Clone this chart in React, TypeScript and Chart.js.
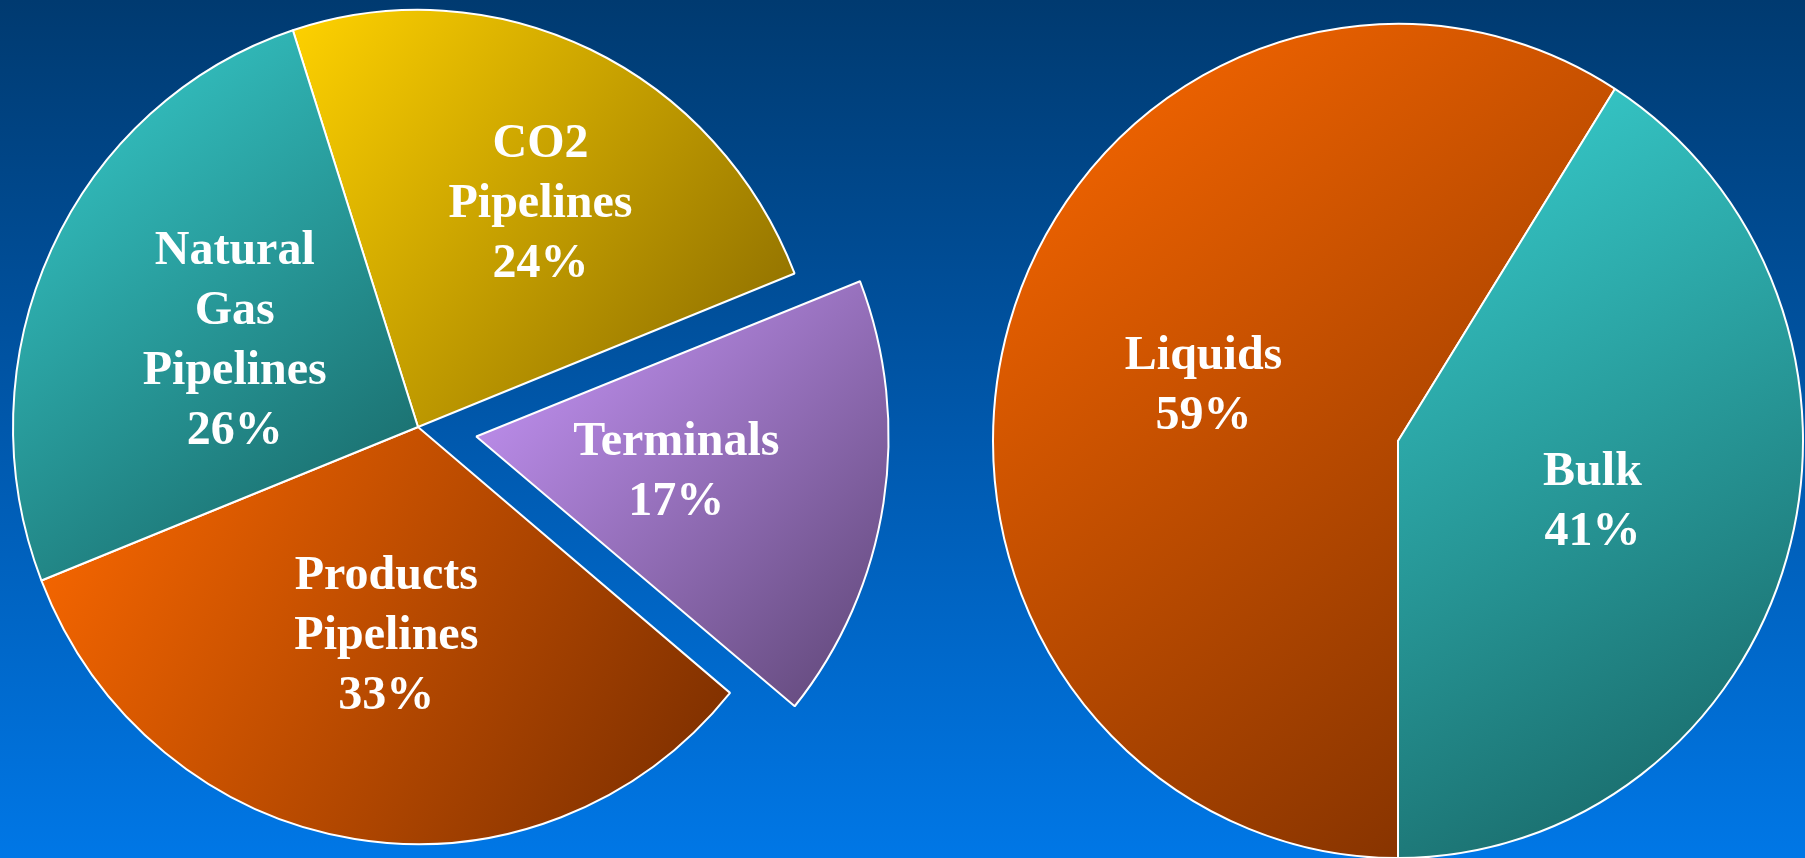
import React, { useEffect, useRef } from "react";
import { Chart, registerables } from "chart.js";

Chart.register(...registerables);

// ---------- data ----------
const leftCategories = ["CO2 Pipelines", "Terminals", "Products Pipelines", "Natural Gas Pipelines"];
const leftLabelLines = [["CO2", "Pipelines"], ["Terminals"], ["Products", "Pipelines"], ["Natural", "Gas", "Pipelines"]];
const leftValues = [24, 17, 33, 26];

const rightCategories = ["Liquids", "Bulk"];
const rightLabelLines = [["Liquids"], ["Bulk"]];
const rightValues = [59, 41];

// ---------- styling ----------
const leftLight = ["#FFD200", "#CC99FF", "#FF6A00", "#38CFCF"];
const leftDark = ["#846600", "#5E4676", "#762C00", "#166060"];
const leftOffsets = [0, 236, 0, 0];
const leftLabelRadius = [0.62, 0.5, 0.5, 0.5];
const leftLabelTurn = [4, 0, 0, 0];

const rightLight = ["#FF6A00", "#38CFCF"];
const rightDark = ["#762C00", "#166060"];
const rightOffsets = [0, 0];
const rightLabelRadius = [0.5, 0.5];
const rightLabelTurn = [0, 0];

const RADIUS = 405;
const Y_STRETCH = 1.03;
const LINE_HEIGHT = 60;
const FONT = 'bold 48px "Liberation Serif", "Times New Roman", serif';

type PieCfg = {
  categories: string[];
  lines: string[][];
  values: number[];
  light: string[];
  dark: string[];
  offsets: number[];
  labelRadius: number[];
  labelTurn: number[];
  rotation: number;
  padding: { left: number; right: number; top: number; bottom: number };
};

function sliceAngles(values: number[], rotationDeg: number) {
  const total = values.reduce((a, b) => a + b, 0);
  let a = (rotationDeg * Math.PI) / 180 - Math.PI / 2;
  return values.map((v) => {
    const s = a;
    a += (v / total) * 2 * Math.PI;
    return [s, a];
  });
}

function centerOf(chart: any) {
  const area = chart.chartArea;
  return { cx: (area.left + area.right) / 2, cy: (area.top + area.bottom) / 2 };
}

function makeGradient(c: any, cfg: PieCfg) {
  const chart = c.chart;
  const i = c.dataIndex;
  if (!chart.chartArea || i === undefined) return cfg.light[i || 0];
  const { cx, cy } = centerOf(chart);
  const [s, e] = sliceAngles(cfg.values, cfg.rotation)[i];
  const xs = [cx];
  const ys = [cy];
  const push = (a: number) => {
    xs.push(cx + RADIUS * Math.cos(a));
    ys.push(cy + RADIUS * Math.sin(a));
  };
  push(s);
  push(e);
  for (let k = Math.ceil(s / (Math.PI / 2)); (k * Math.PI) / 2 < e; k++) push((k * Math.PI) / 2);
  const g = chart.ctx.createLinearGradient(Math.min(...xs), Math.min(...ys), Math.max(...xs), Math.max(...ys));
  g.addColorStop(0, cfg.light[i]);
  g.addColorStop(1, cfg.dark[i]);
  return g;
}

function buildChart(canvas: HTMLCanvasElement, cfg: PieCfg) {
  const stretchPlugin = {
    id: "stretch",
    beforeDatasetsDraw(chart: any) {
      const { cx, cy } = centerOf(chart);
      const ctx = chart.ctx;
      ctx.save();
      ctx.translate(cx, cy);
      ctx.scale(1, Y_STRETCH);
      ctx.translate(-cx, -cy);
    },
    afterDatasetsDraw(chart: any) {
      chart.ctx.restore();
    },
  };
  const labelPlugin = {
    id: "sliceLabels",
    afterDraw(chart: any) {
      const { cx, cy } = centerOf(chart);
      const ctx = chart.ctx;
      const angles = sliceAngles(cfg.values, cfg.rotation);
      ctx.save();
      ctx.font = FONT;
      ctx.fillStyle = "#ffffff";
      ctx.textAlign = "center";
      ctx.textBaseline = "alphabetic";
      cfg.values.forEach((v, i) => {
        const [s, e] = angles[i];
        const mid = (s + e) / 2;
        const off = cfg.offsets[i] / 4;
        const th = mid + (cfg.labelTurn[i] * Math.PI) / 180;
        const d = cfg.labelRadius[i] * RADIUS;
        const x = cx + Math.cos(mid) * off + d * Math.cos(th);
        const y = cy + Y_STRETCH * (Math.sin(mid) * off + d * Math.sin(th));
        const lines = [...cfg.lines[i], `${v}%`];
        const n = lines.length;
        lines.forEach((t, j) => {
          const ly = y + (j - (n - 1) / 2) * LINE_HEIGHT + 16;
          ctx.fillText(t, x, ly);
        });
      });
      ctx.restore();
    },
  };
  return new Chart(canvas, {
    type: "pie",
    data: {
      labels: cfg.categories,
      datasets: [
        {
          data: cfg.values,
          backgroundColor: (c: any) => makeGradient(c, cfg),
          borderColor: "#ffffff",
          borderWidth: 2,
          offset: cfg.offsets,
          radius: RADIUS,
          clip: false,
        } as any,
      ],
    },
    options: {
      animation: false,
      responsive: false,
      maintainAspectRatio: false,
      events: [],
      rotation: cfg.rotation,
      layout: { padding: cfg.padding },
      plugins: { legend: { display: false }, tooltip: { enabled: false } },
    } as any,
    plugins: [stretchPlugin, labelPlugin],
  });
}

const W = 1805;
const H = 858;

export default function App() {
  const leftRef = useRef<HTMLCanvasElement>(null);
  const rightRef = useRef<HTMLCanvasElement>(null);

  useEffect(() => {
    const left = buildChart(leftRef.current!, {
      categories: leftCategories,
      lines: leftLabelLines,
      values: leftValues,
      light: leftLight,
      dark: leftDark,
      offsets: leftOffsets,
      labelRadius: leftLabelRadius,
      labelTurn: leftLabelTurn,
      rotation: -18,
      padding: { left: 0, right: W - 836, top: 0, bottom: H - 854 },
    });
    const right = buildChart(rightRef.current!, {
      categories: rightCategories,
      lines: rightLabelLines,
      values: rightValues,
      light: rightLight,
      dark: rightDark,
      offsets: rightOffsets,
      labelRadius: rightLabelRadius,
      labelTurn: rightLabelTurn,
      rotation: 180,
      padding: { left: 2 * 1398 - W, right: 0, top: 2 * 441 - H, bottom: 0 },
    });
    return () => {
      left.destroy();
      right.destroy();
    };
  }, []);

  const canvasStyle: React.CSSProperties = { position: "absolute", left: 0, top: 0, width: W, height: H };
  return (
    <div
      style={{
        position: "fixed",
        left: 0,
        top: 0,
        width: W,
        height: H,
        overflow: "hidden",
        background: "linear-gradient(to bottom, #003A70 0%, #0058AC 50%, #0077E6 100%)",
      }}
    >
      <canvas ref={leftRef} width={W} height={H} style={canvasStyle} />
      <canvas ref={rightRef} width={W} height={H} style={canvasStyle} />
    </div>
  );
}
